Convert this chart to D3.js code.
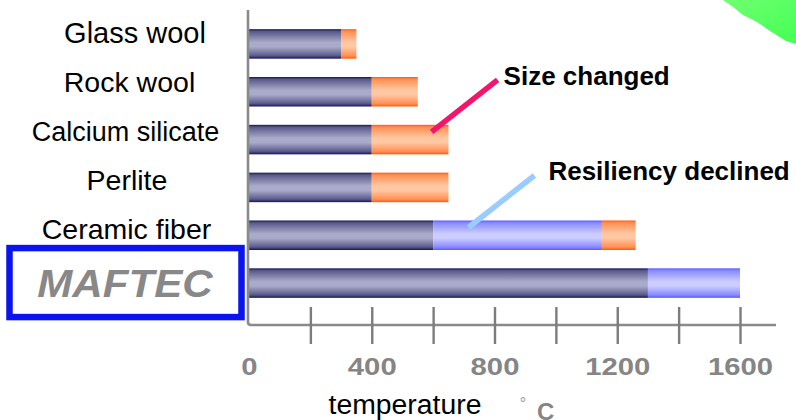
<!DOCTYPE html>
<html>
<head>
<meta charset="utf-8">
<script src="https://cdn.jsdelivr.net/npm/d3@7"></script>
<style>
  html, body { margin: 0; padding: 0; background: #fff; }
  svg { display: block; }
  text { font-family: "Liberation Sans", Arial, sans-serif; }
</style>
</head>
<body>
<svg id="chart" width="796" height="420"></svg>
<script>
// Service temperature ranges of insulating materials (°C)
const categories = ["Glass wool", "Rock wool", "Calcium silicate", "Perlite", "Ceramic fiber", "MAFTEC"];
// upper end of the stable range
const stableMax = [300, 400, 400, 400, 600, 1300];
// upper end of the range where resiliency declines (null = none)
const resiliencyMax = [null, null, null, null, 1150, 1600];
// upper end of the range where size changes (null = none)
const sizeChangeMax = [350, 550, 650, 650, 1260, null];

const tickValues = [200, 400, 600, 800, 1000, 1200, 1400, 1600];
const tickLabels = [0, 400, 800, 1200, 1600];

const notes = [
  { text: "Size changed", category: "Calcium silicate", at: 595, color: "#f5146a" },
  { text: "Resiliency declined", category: "Ceramic fiber", at: 715, color: "#99ccff" }
];

const svg = d3.select("#chart");
const defs = svg.append("defs");

const x = d3.scaleLinear().domain([0, 1600]).range([249, 740]);
const y = d3.scaleBand().domain(categories).range([20, 307]).paddingInner(0.383).paddingOuter(0.1915);
const yLabel = d3.scalePoint().domain(categories.slice(0, 5)).range([43, 239]);

// bar fills: dark edges, light centre
function barGradient(id, edge, mid) {
  const g = defs.append("linearGradient").attr("id", id)
    .attr("x1", 0).attr("y1", 0).attr("x2", 0).attr("y2", 1);
  [[0, edge[0]], [0.08, edge[1]], [0.45, mid], [0.6, mid], [0.9, edge[1]], [1, edge[0]]]
    .forEach(([o, c]) => g.append("stop").attr("offset", o).attr("stop-color", c));
}
barGradient("gStable", ["#141457", "#5a5a8a"], "#aaaacb");
barGradient("gResil", ["#5a5aff", "#8a8aff"], "#ccccff");
barGradient("gSize", ["#ff5a0a", "#ff9055"], "#ffc8a2");

const green = defs.append("linearGradient").attr("id", "gGreen")
  .attr("x1", 0).attr("y1", 0).attr("x2", 1).attr("y2", 1);
green.append("stop").attr("offset", 0).attr("stop-color", "#70ff70");
green.append("stop").attr("offset", 1).attr("stop-color", "#44ff55");

// decorative corner shape
const blob = [[723, 0], [733, 7], [743, 15], [757, 22], [770, 31], [786, 41], [796, 44], [796, 0]];
svg.append("path")
  .attr("d", d3.line()(blob) + "Z")
  .attr("fill", "url(#gGreen)");

// segments per category
const segments = [];
categories.forEach((c, i) => {
  let start = 0;
  const parts = [["gStable", stableMax[i]], ["gResil", resiliencyMax[i]], ["gSize", sizeChangeMax[i]]];
  parts.forEach(([fill, end]) => {
    if (end == null) return;
    segments.push({ category: c, from: start, to: end, fill });
    start = end;
  });
});

svg.append("g").selectAll("rect").data(segments).join("rect")
  .attr("x", d => x(d.from))
  .attr("y", d => y(d.category))
  .attr("width", d => x(d.to) - x(d.from))
  .attr("height", y.bandwidth())
  .attr("fill", d => `url(#${d.fill})`);

// axes
const axisY = 325;
svg.append("path")
  .attr("d", `M${x(0) - 1},10 L${x(0) - 1},${axisY - 3} Q${x(0) - 1},${axisY} ${x(0) + 2},${axisY} L776,${axisY}`)
  .attr("fill", "none").attr("stroke", "#8a8a8a").attr("stroke-width", 2.6);

const tickAxis = svg.append("g").attr("transform", "translate(0,307)")
  .call(d3.axisBottom(x).tickValues(tickValues).tickSize(37).tickFormat(""));
tickAxis.select(".domain").remove();
tickAxis.selectAll("line").attr("stroke", "#7c7c7c").attr("stroke-width", 2.4);

const labelAxis = svg.append("g").attr("transform", "translate(0,375)")
  .call(d3.axisBottom(x).tickValues(tickLabels).tickSize(0).tickPadding(0).tickFormat(d3.format("d")));
labelAxis.select(".domain").remove();
labelAxis.selectAll("text")
  .attr("dy", 0).attr("y", 0)
  .attr("font-family", "Liberation Sans, Arial, sans-serif")
  .attr("font-size", 24).attr("font-weight", "bold")
  .attr("fill", "#858585")
  .attr("transform", "scale(1.22,1)");

// stretched text helper
function label(g, txt, cx, by, size, opts = {}) {
  return g.append("text")
    .attr("transform", `translate(${cx},${by}) scale(${opts.sx || 1},1)`)
    .attr("text-anchor", opts.anchor || "middle")
    .attr("font-size", size)
    .attr("font-weight", opts.bold ? "bold" : "normal")
    .attr("font-style", opts.italic ? "italic" : "normal")
    .attr("fill", opts.fill || "#000")
    .text(txt);
}

// category names: the long one is set a little smaller
const lg = svg.append("g");
const nameStyle = {
  "Glass wool": { cx: 135, size: 29 },
  "Rock wool": { cx: 129.5, size: 28.5 },
  "Calcium silicate": { cx: 125.5, size: 27 },
  "Perlite": { cx: 127, size: 28.5 },
  "Ceramic fiber": { cx: 126.5, size: 28.5 }
};
categories.slice(0, 5).forEach(c => label(lg, c, nameStyle[c].cx, yLabel(c), nameStyle[c].size));

// highlighted product
const mY = y("MAFTEC") + y.bandwidth() / 2;
lg.append("rect").attr("x", 9.5).attr("y", mY - 35).attr("width", 232).attr("height", 69)
  .attr("fill", "none").attr("stroke", "#0a14f0").attr("stroke-width", 6.5);
label(lg, "MAFTEC", 125, mY + 14, 39, { bold: true, italic: true, sx: 1.08, fill: "#888888" });

// axis title
label(lg, "temperature", 405, 414, 27, { sx: 1.05 });
label(lg, "°", 523, 409, 16, { fill: "#9a9a9a" });
label(lg, "C", 537, 419.5, 24, { bold: true, anchor: "start", fill: "#858585" });

// annotations
const noteGap = [6, 14];
notes.forEach((n, i) => {
  const sx = x(n.at), sy = y(n.category) + 7;
  const ex = sx + 66, ey = sy - 52;
  svg.append("line").attr("x1", sx).attr("y1", sy).attr("x2", ex).attr("y2", ey)
    .attr("stroke", n.color).attr("stroke-width", 5.5);
  label(svg, n.text, ex + noteGap[i], ey + 5, 26, { bold: true, anchor: "start" });
});
</script>
</body>
</html>
